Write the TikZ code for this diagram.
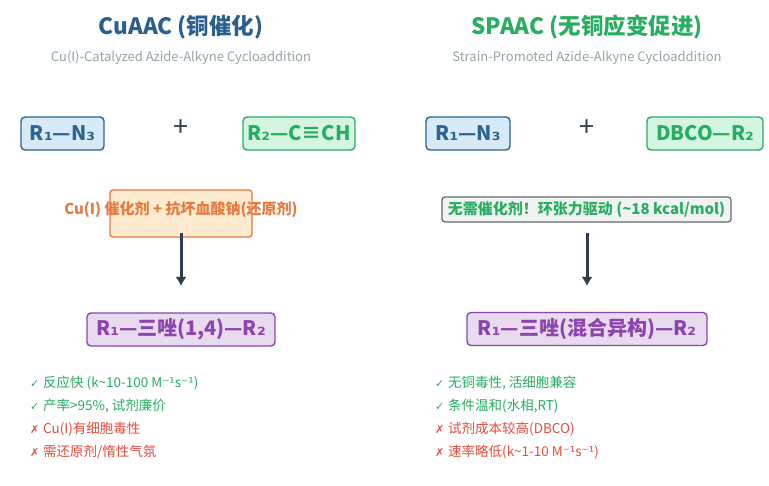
\documentclass[tikz,border=0pt]{standalone}
\usepackage{fontspec}
\setmainfont{Noto Sans CJK SC}
\newfontfamily\symfont{DejaVu Sans}
\usetikzlibrary{arrows.meta,positioning}
\definecolor{titleblue}{HTML}{2B5F8C}
\definecolor{azideblue}{HTML}{2E6491}
\definecolor{azidefill}{HTML}{D6EAF8}
\definecolor{alkgreen}{HTML}{27AE60}
\definecolor{alkfill}{HTML}{D5F5E3}
\definecolor{catorange}{HTML}{E8793F}
\definecolor{catfill}{HTML}{FDEBD0}
\definecolor{straingray}{HTML}{616A6B}
\definecolor{strainfill}{HTML}{F2F4F4}
\definecolor{prodpurple}{HTML}{8E44AD}
\definecolor{prodfill}{HTML}{E8DAEF}
\definecolor{darkline}{HTML}{2C3E50}
\definecolor{subgray}{HTML}{95A5A6}
\definecolor{conred}{HTML}{E74C3C}
\newcommand{\good}{\makebox[13pt][l]{\symfont\fontsize{11}{12}\selectfont ✓}}
\newcommand{\bad}{\makebox[13pt][l]{\symfont\fontsize{11}{12}\selectfont ✗}}
\newcommand{\dv}[1]{{\symfont #1}}

\begin{document}
\begin{tikzpicture}[x=1pt, y=-1pt,
  heading/.style={font=\bfseries\fontsize{22.5}{26}\selectfont},
  subhead/.style={text=subgray, font=\fontsize{13}{15}\selectfont},
  mol/.style={rounded corners=4pt, line width=1.4pt, minimum height=33pt, inner sep=0pt, font=\bfseries\fontsize{20}{22}\selectfont},
  azide/.style={mol, draw=azideblue, fill=azidefill, text=azideblue},
  alkyne/.style={mol, draw=alkgreen, fill=alkfill, text=alkgreen},
  product/.style={mol, draw=prodpurple, fill=prodfill, text=prodpurple},
  plus/.style={text=darkline, font=\fontsize{27}{28}\selectfont},
  catbox/.style={draw=catorange, fill=catfill, rounded corners=3pt, line width=1.4pt, minimum width=142pt, minimum height=47pt},
  cattext/.style={text=catorange, font=\bfseries\fontsize{15}{17}\selectfont},
  strain/.style={draw=straingray, fill=strainfill, rounded corners=3pt, line width=1.2pt, text=alkgreen, minimum width=289pt, minimum height=25pt, inner sep=0pt, font=\bfseries\fontsize{15}{17}\selectfont},
  pro/.style={anchor=west, inner sep=0pt, text=alkgreen, font=\fontsize{13.5}{16}\selectfont},
  con/.style={pro, text=conred},
  arrow/.style={-{Latex[length=9pt,width=11pt]}, line width=3pt, color=darkline}
]
\path[fill=white, use as bounding box] (0,0) rectangle (769,486);

% CuAAC
\node[heading, text=titleblue] (t1) at (181,27) {CuAAC (铜催化)};
\node[subhead] (s1) at (181,58) {Cu(I)-Catalyzed Azide-Alkyne Cycloaddition};
\node[azide, minimum width=83pt] (a1) at (62.5,133.5) {R\dv{₁}—N\dv{₃}};
\node[plus] (p1) at (181,128) {+};
\node[alkyne, minimum width=112pt] (b1) at (299,133.5) {R\dv{₂}—C≡CH};
\node[catbox] (c1) at (181,213.5) {};
\node[cattext] (c1t) at (181,210) {Cu(I) 催化剂 + 抗坏血酸钠(还原剂)};
\node[product, minimum width=188pt] (d1) at (181,329.5) {R\dv{₁}—三唑(1,4)—R\dv{₂}};
\coordinate (e1) at (181,233);
\coordinate (f1) at (181,286);
\draw[arrow] (e1) -- (f1);
\node[pro] (g1) at (30,383) {\good 反应快 (k\textasciitilde 10-100 M\dv{⁻¹}s\dv{⁻¹})};
\node[pro] (h1) at (30,406) {\good 产率>95\%, 试剂廉价};
\node[con] (i1) at (30,429) {\bad Cu(I)有细胞毒性};
\node[con] (j1) at (30,452) {\bad 需还原剂/惰性气氛};

% SPAAC
\node[heading, text=alkgreen] (t2) at (587,27) {SPAAC (无铜应变促进)};
\node[subhead] (s2) at (587,58) {Strain-Promoted Azide-Alkyne Cycloaddition};
\node[azide, minimum width=84pt] (a2) at (468,133.5) {R\dv{₁}—N\dv{₃}};
\node[plus] (p2) at (587,128) {+};
\node[alkyne, minimum width=116pt] (b2) at (705,133.5) {DBCO—R\dv{₂}};
\node[strain] (c2) at (586.5,209.5) {无需催化剂！环张力驱动 (\textasciitilde 18 kcal/mol)};
\node[product, minimum width=240pt] (d2) at (587,329) {R\dv{₁}—三唑(混合异构)—R\dv{₂}};
\coordinate (e2) at (587,233);
\coordinate (f2) at (587,286);
\draw[arrow] (e2) -- (f2);
\node[pro] (g2) at (435,383) {\good 无铜毒性, 活细胞兼容};
\node[pro] (h2) at (435,406) {\good 条件温和(水相,RT)};
\node[con] (i2) at (435,429) {\bad 试剂成本较高(DBCO)};
\node[con] (j2) at (435,452) {\bad 速率略低(k\textasciitilde 1-10 M\dv{⁻¹}s\dv{⁻¹})};
\end{tikzpicture}
\end{document}
